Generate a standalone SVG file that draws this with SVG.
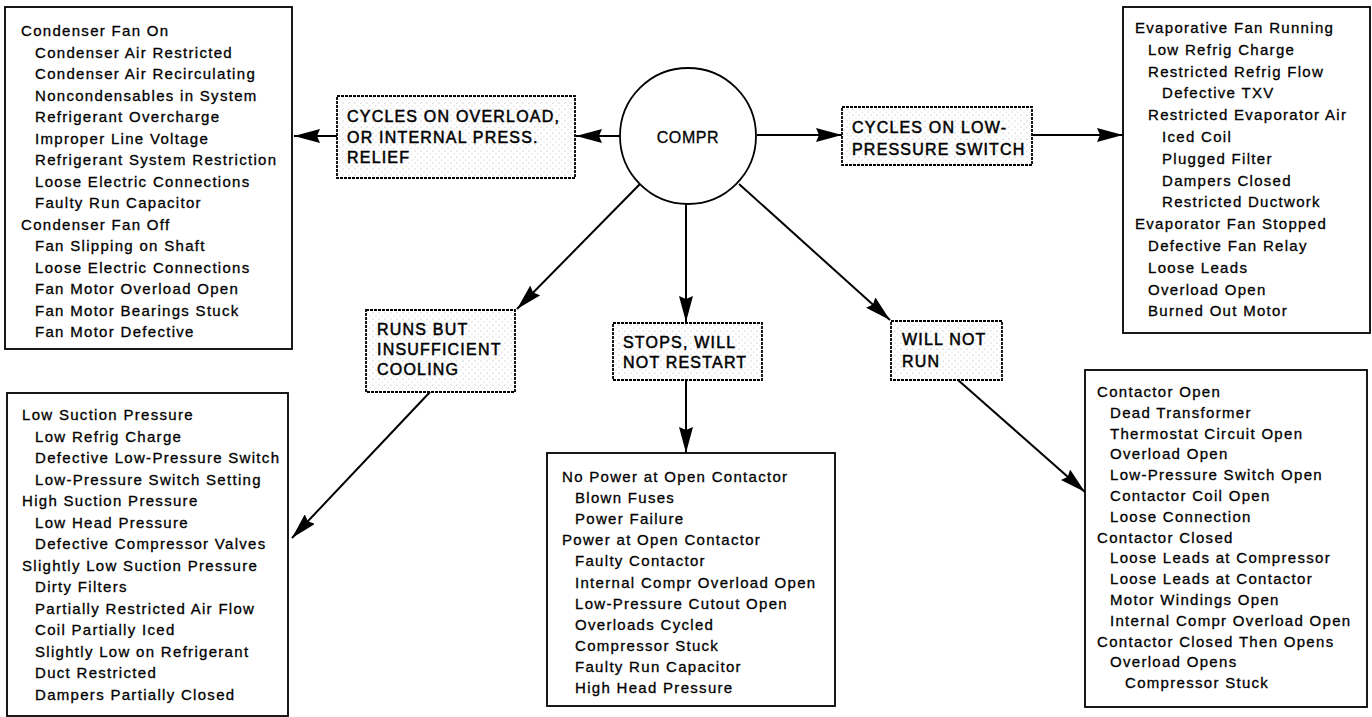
<svg xmlns="http://www.w3.org/2000/svg" width="1372" height="717" viewBox="0 0 1372 717">
<style>
.box{fill:#fff;stroke:#000;stroke-width:1.8}
.lbl{fill:url(#stip);stroke:#000;stroke-width:1.8;stroke-dasharray:3 1}
.t{font-family:"Liberation Sans",Arial,sans-serif;font-size:15px;letter-spacing:1.3px;fill:#000;stroke:#000;stroke-width:0.3}
.lt{font-family:"Liberation Sans",Arial,sans-serif;font-size:16px;letter-spacing:1.2px;fill:#000;stroke:#000;stroke-width:0.5}
.c{fill:none;stroke:#000;stroke-width:2}
</style>
<defs>
<pattern id="stip" width="6" height="6" patternUnits="userSpaceOnUse">
<rect width="6" height="6" fill="#fff"/>
<circle cx="1" cy="1" r="0.6" fill="#aaa"/>
<circle cx="4" cy="4" r="0.6" fill="#c4c4c4"/>
</pattern>
<marker id="ah" viewBox="0 0 26 14" refX="26" refY="7" markerWidth="26" markerHeight="14" markerUnits="userSpaceOnUse" orient="auto">
<path d="M0,0 L26,7 L0,14 L3,7 z" fill="#000"/>
</marker>
</defs>

<g id="connectors">
<line class="c" x1="620" y1="136" x2="576" y2="136" marker-end="url(#ah)"/>
<line class="c" x1="337" y1="136" x2="294" y2="136" marker-end="url(#ah)"/>
<line class="c" x1="757" y1="135" x2="842" y2="135" marker-end="url(#ah)"/>
<line class="c" x1="1032" y1="135" x2="1123" y2="135" marker-end="url(#ah)"/>
<line class="c" x1="640" y1="184" x2="517" y2="309" marker-end="url(#ah)"/>
<line class="c" x1="430" y1="392" x2="292" y2="538" marker-end="url(#ah)"/>
<line class="c" x1="686" y1="204" x2="686" y2="322" marker-end="url(#ah)"/>
<line class="c" x1="686" y1="380" x2="686" y2="453" marker-end="url(#ah)"/>
<line class="c" x1="739" y1="184" x2="890" y2="320" marker-end="url(#ah)"/>
<line class="c" x1="958" y1="380" x2="1085" y2="492" marker-end="url(#ah)"/>
</g>

<g id="compr">
<circle cx="688" cy="136" r="68" fill="#fff" stroke="#000" stroke-width="1.8"/>
<text x="688" y="143" text-anchor="middle" font-family="Liberation Sans, Arial, sans-serif" font-size="16" letter-spacing="0.6" stroke="#000" stroke-width="0.3">COMPR</text>
</g>

<g id="lbl-overload">
<rect class="lbl" x="337" y="96" width="238" height="82"/>
<text class="lt"><tspan x="347" y="122">CYCLES ON OVERLOAD,</tspan><tspan x="347" y="143">OR INTERNAL PRESS.</tspan><tspan x="347" y="163">RELIEF</tspan></text>
</g>

<g id="lbl-lowpress">
<rect class="lbl" x="842" y="107" width="190" height="58"/>
<text class="lt"><tspan x="852" y="133">CYCLES ON LOW-</tspan><tspan x="852" y="155">PRESSURE SWITCH</tspan></text>
</g>

<g id="lbl-runs">
<rect class="lbl" x="366" y="310" width="149" height="82"/>
<text class="lt"><tspan x="377" y="335">RUNS BUT</tspan><tspan x="377" y="355">INSUFFICIENT</tspan><tspan x="377" y="375">COOLING</tspan></text>
</g>

<g id="lbl-stops">
<rect class="lbl" x="613" y="323" width="149" height="57"/>
<text class="lt"><tspan x="623" y="348">STOPS, WILL</tspan><tspan x="623" y="368">NOT RESTART</tspan></text>
</g>

<g id="lbl-willnot">
<rect class="lbl" x="891" y="321" width="111" height="59"/>
<text class="lt"><tspan x="902" y="345">WILL NOT</tspan><tspan x="902" y="367">RUN</tspan></text>
</g>

<g id="box-overload">
<rect class="box" x="5" y="7" width="287" height="342"/>
<text class="t">
<tspan x="21" y="36">Condenser Fan On</tspan>
<tspan x="35" y="57.5">Condenser Air Restricted</tspan>
<tspan x="35" y="79">Condenser Air Recirculating</tspan>
<tspan x="35" y="100.5">Noncondensables in System</tspan>
<tspan x="35" y="122">Refrigerant Overcharge</tspan>
<tspan x="35" y="143.5">Improper Line Voltage</tspan>
<tspan x="35" y="165">Refrigerant System Restriction</tspan>
<tspan x="35" y="186.5">Loose Electric Connections</tspan>
<tspan x="35" y="208">Faulty Run Capacitor</tspan>
<tspan x="21" y="229.5">Condenser Fan Off</tspan>
<tspan x="35" y="251">Fan Slipping on Shaft</tspan>
<tspan x="35" y="272.5">Loose Electric Connections</tspan>
<tspan x="35" y="294">Fan Motor Overload Open</tspan>
<tspan x="35" y="315.5">Fan Motor Bearings Stuck</tspan>
<tspan x="35" y="337">Fan Motor Defective</tspan>
</text>
</g>

<g id="box-lowpress">
<rect class="box" x="1123" y="7" width="247" height="326"/>
<text class="t">
<tspan x="1135" y="33">Evaporative Fan Running</tspan>
<tspan x="1148" y="54.8">Low Refrig Charge</tspan>
<tspan x="1148" y="76.6">Restricted Refrig Flow</tspan>
<tspan x="1162" y="98.4">Defective TXV</tspan>
<tspan x="1148" y="120.2">Restricted Evaporator Air</tspan>
<tspan x="1162" y="142">Iced Coil</tspan>
<tspan x="1162" y="163.8">Plugged Filter</tspan>
<tspan x="1162" y="185.6">Dampers Closed</tspan>
<tspan x="1162" y="207.4">Restricted Ductwork</tspan>
<tspan x="1135" y="229.2">Evaporator Fan Stopped</tspan>
<tspan x="1148" y="251">Defective Fan Relay</tspan>
<tspan x="1148" y="272.8">Loose Leads</tspan>
<tspan x="1148" y="294.6">Overload Open</tspan>
<tspan x="1148" y="316.4">Burned Out Motor</tspan>
</text>
</g>

<g id="box-runs">
<rect class="box" x="7" y="393" width="281" height="323"/>
<text class="t">
<tspan x="22" y="420">Low Suction Pressure</tspan>
<tspan x="35" y="441.5">Low Refrig Charge</tspan>
<tspan x="35" y="463">Defective Low-Pressure Switch</tspan>
<tspan x="35" y="484.5">Low-Pressure Switch Setting</tspan>
<tspan x="22" y="506">High Suction Pressure</tspan>
<tspan x="35" y="527.5">Low Head Pressure</tspan>
<tspan x="35" y="549">Defective Compressor Valves</tspan>
<tspan x="22" y="570.5">Slightly Low Suction Pressure</tspan>
<tspan x="35" y="592">Dirty Filters</tspan>
<tspan x="35" y="613.5">Partially Restricted Air Flow</tspan>
<tspan x="35" y="635">Coil Partially Iced</tspan>
<tspan x="35" y="656.5">Slightly Low on Refrigerant</tspan>
<tspan x="35" y="678">Duct Restricted</tspan>
<tspan x="35" y="699.5">Dampers Partially Closed</tspan>
</text>
</g>

<g id="box-stops">
<rect class="box" x="547" y="453" width="288" height="253"/>
<text class="t">
<tspan x="562" y="482">No Power at Open Contactor</tspan>
<tspan x="575" y="503.1">Blown Fuses</tspan>
<tspan x="575" y="524.2">Power Failure</tspan>
<tspan x="562" y="545.3">Power at Open Contactor</tspan>
<tspan x="575" y="566.4">Faulty Contactor</tspan>
<tspan x="575" y="587.5">Internal Compr Overload Open</tspan>
<tspan x="575" y="608.6">Low-Pressure Cutout Open</tspan>
<tspan x="575" y="629.7">Overloads Cycled</tspan>
<tspan x="575" y="650.8">Compressor Stuck</tspan>
<tspan x="575" y="671.9">Faulty Run Capacitor</tspan>
<tspan x="575" y="693">High Head Pressure</tspan>
</text>
</g>

<g id="box-willnot">
<rect class="box" x="1085" y="370" width="282" height="337"/>
<text class="t">
<tspan x="1097" y="397">Contactor Open</tspan>
<tspan x="1110" y="417.8">Dead Transformer</tspan>
<tspan x="1110" y="438.6">Thermostat Circuit Open</tspan>
<tspan x="1110" y="459.4">Overload Open</tspan>
<tspan x="1110" y="480.2">Low-Pressure Switch Open</tspan>
<tspan x="1110" y="501">Contactor Coil Open</tspan>
<tspan x="1110" y="521.8">Loose Connection</tspan>
<tspan x="1097" y="542.6">Contactor Closed</tspan>
<tspan x="1110" y="563.4">Loose Leads at Compressor</tspan>
<tspan x="1110" y="584.2">Loose Leads at Contactor</tspan>
<tspan x="1110" y="605">Motor Windings Open</tspan>
<tspan x="1110" y="625.8">Internal Compr Overload Open</tspan>
<tspan x="1097" y="646.6">Contactor Closed Then Opens</tspan>
<tspan x="1110" y="667.4">Overload Opens</tspan>
<tspan x="1125" y="688.2">Compressor Stuck</tspan>
</text>
</g>
</svg>
